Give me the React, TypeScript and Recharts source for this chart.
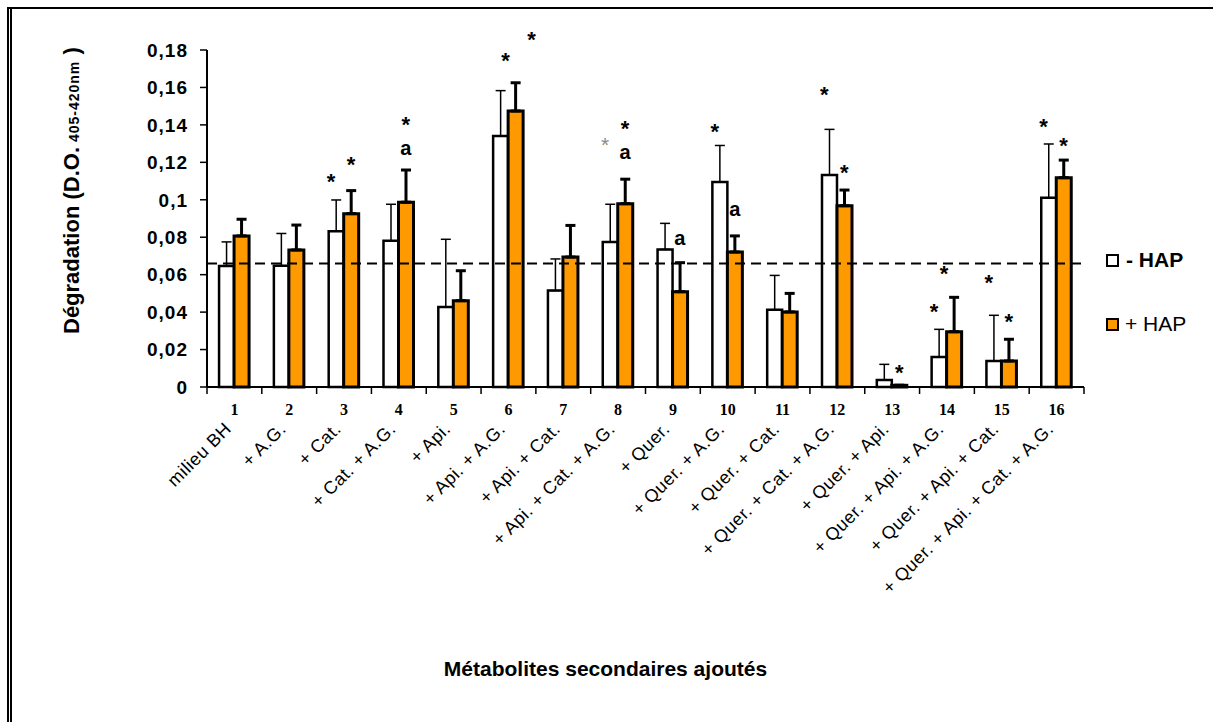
import React from 'react';
import { BarChart, Bar, XAxis, YAxis, ErrorBar, ReferenceLine, ReferenceDot, Legend } from 'recharts';

const categories = ['1', '2', '3', '4', '5', '6', '7', '8', '9', '10', '11', '12', '13', '14', '15', '16'];
const treatmentLabels = [
  'milieu BH',
  '+ A.G.',
  '+ Cat.',
  '+ Cat. + A.G.',
  '+ Api.',
  '+ Api. + A.G.',
  '+ Api. + Cat.',
  '+ Api. + Cat. + A.G.',
  '+ Quer.',
  '+ Quer. + A.G.',
  '+ Quer. + Cat.',
  '+ Quer. + Cat. + A.G.',
  '+ Quer. + Api.',
  '+ Quer. + Api. + A.G.',
  '+ Quer. + Api. + Cat.',
  '+ Quer. + Api. + Cat. + A.G.',
];

// - HAP (white bars)
const minusHap = [0.0646, 0.0648, 0.0832, 0.0781, 0.0427, 0.134, 0.0515, 0.0775, 0.0735, 0.1095, 0.0413, 0.1132, 0.0037, 0.016, 0.0139, 0.1011];
const minusHapErr = [0.0129, 0.0172, 0.0167, 0.0195, 0.0362, 0.0243, 0.0169, 0.0201, 0.0139, 0.0195, 0.0183, 0.0244, 0.0084, 0.0148, 0.0244, 0.0287];
// + HAP (orange bars)
const plusHap = [0.0807, 0.0732, 0.0926, 0.0987, 0.0461, 0.1474, 0.0694, 0.0979, 0.0509, 0.0721, 0.0401, 0.0968, 0.0009, 0.0295, 0.0139, 0.1118];
const plusHapErr = [0.0089, 0.0133, 0.0123, 0.0172, 0.016, 0.0151, 0.0169, 0.0131, 0.0155, 0.0086, 0.0099, 0.0084, 0, 0.0184, 0.0116, 0.0094];

const yTicks = [0, 0.02, 0.04, 0.06, 0.08, 0.1, 0.12, 0.14, 0.16, 0.18];
const controlLevel = 0.066;

// significance marks: category, which bar they sit by, text, height
const markCats = ['3', '3', '4', '4', '6', '6', '8', '8', '8', '9', '10', '10', '12', '12', '13', '14', '14', '15', '15', '16', '16'];
const markSeries = ['minus', 'plus', 'plus', 'plus', 'mid', 'far', 'minus', 'plus', 'plus', 'plus', 'minus', 'plus', 'minus', 'plus', 'plus', 'minus', 'mid', 'minus', 'plus', 'minus', 'plus'];
const markTexts = ['*', '*', 'a', '*', '*', '*', '°', 'a', '*', 'a', '*', 'a', '*', '*', '*', '*', '*', '*', '*', '*', '*'];
const markHeights = [0.112, 0.1212, 0.127, 0.1426, 0.1768, 0.188, 0.1314, 0.1251, 0.1406, 0.079, 0.139, 0.0944, 0.1585, 0.1171, 0.0103, 0.0429, 0.0629, 0.0581, 0.0372, 0.1414, 0.1314];

const data = categories.map((cat, i) => ({
  cat,
  minus: minusHap[i],
  plus: plusHap[i],
  minusErr: [0, minusHapErr[i]],
  plusErr: [0, plusHapErr[i]],
}));

const W = 1213;
const H = 722;
const PLOT_LEFT = 207;
const PLOT_RIGHT = 1084;
const BAND = (PLOT_RIGHT - PLOT_LEFT) / categories.length;
const SANS = '"Liberation Sans", Arial, sans-serif';
const MARK_DX: Record<string, number> = { minus: -13, mid: -3, plus: 7, far: 23 };

const fmt = (v: number) => String(Number(v.toFixed(2))).replace('.', ',');

const XTick = (props: any) => {
  const { x, y, payload, index } = props;
  const lx = x - 2;
  const ly = y + 43;
  return (
    <g>
      <line x1={x - BAND / 2} x2={x - BAND / 2} y1={y} y2={y + 7} stroke="#000" strokeWidth={1.5} />
      {index === categories.length - 1 ? (
        <line x1={x + BAND / 2} x2={x + BAND / 2} y1={y} y2={y + 7} stroke="#000" strokeWidth={1.5} />
      ) : null}
      <text x={x} y={y + 28} textAnchor="middle" fontFamily='"Liberation Serif", serif' fontWeight="bold" fontSize={16} fill="#000">
        {payload.value}
      </text>
      <text
        x={lx}
        y={ly}
        textAnchor="end"
        transform={`rotate(-45 ${lx} ${ly})`}
        fontFamily={SANS}
        fontSize={18}
        letterSpacing={0.5}
        fill="#000"
      >
        {treatmentLabels[index]}
      </text>
    </g>
  );
};

const YTitle = () => (
  <text x={79} y={334} transform="rotate(-90 79 334)" fontFamily={SANS} fontWeight="bold" fontSize={22} fill="#000">
    Dégradation (D.O.
    <tspan fontSize={14} letterSpacing={1}> 405-420nm</tspan>
    <tspan> )</tspan>
  </text>
);

const XTitle = (props: any) => {
  const vb = props.viewBox;
  return (
    <text x={vb.x + vb.width / 2 - 40} y={676} textAnchor="middle" fontFamily={SANS} fontWeight="bold" fontSize={21} fill="#000">
      Métabolites secondaires  ajoutés
    </text>
  );
};

const LegendBox = () => (
  <div style={{ fontFamily: SANS, color: '#000' }}>
    <div style={{ display: 'flex', alignItems: 'center', height: 24 }}>
      <span style={{ width: 9, height: 9, border: '2px solid #000', background: '#fff', display: 'inline-block' }} />
      <span style={{ marginLeft: 7, fontSize: 21, fontWeight: 'bold' }}>- HAP</span>
    </div>
    <div style={{ display: 'flex', alignItems: 'center', height: 24, marginTop: 40 }}>
      <span style={{ width: 9, height: 9, border: '2px solid #000', background: '#FF9900', display: 'inline-block' }} />
      <span style={{ marginLeft: 6, fontSize: 21 }}>+ HAP</span>
    </div>
  </div>
);

const MarkShape = (text: string, side: string) => (p: any) => {
  const dx = MARK_DX[side];
  if (text === '°') {
    return (
      <text x={p.cx + dx} y={p.cy + 11} textAnchor="middle" fontFamily={SANS} fontSize={21} fill="#8a8a8a">
        *
      </text>
    );
  }
  return (
    <text
      x={p.cx + dx}
      y={p.cy + (text === '*' ? 12 : 6)}
      textAnchor="middle"
      fontFamily={SANS}
      fontWeight="bold"
      fontSize={text === '*' ? 22 : 20}
      fill="#000"
    >
      {text}
    </text>
  );
};

export default function App() {
  return (
    <div style={{ position: 'absolute', left: 0, top: 0, width: W, height: H, background: '#fff' }}>
      <div style={{ position: 'absolute', left: 7, top: 7, width: W - 7, height: 2, background: '#000' }} />
      <div style={{ position: 'absolute', left: 7, top: 7, width: 2, height: H - 7, background: '#000' }} />
      <div style={{ position: 'absolute', left: 10, top: 7, width: 1.5, height: H - 7, background: '#000' }} />
      <BarChart
        width={W}
        height={H}
        data={data}
        margin={{ top: 50, right: W - PLOT_RIGHT, bottom: 0, left: PLOT_LEFT - 60 }}
        barCategoryGap="22%"
        barGap={0}
      >
        <YAxis
          width={60}
          domain={[0, 0.18]}
          ticks={yTicks}
          tickFormatter={fmt}
          axisLine={{ stroke: '#000', strokeWidth: 2 }}
          tickLine={{ stroke: '#000', strokeWidth: 1.5 }}
          tickSize={7}
          tickMargin={12}
          tick={{ fill: '#000', fontFamily: SANS, fontWeight: 'bold', fontSize: 19, letterSpacing: 1 }}
          label={<YTitle />}
        />
        <XAxis
          dataKey="cat"
          height={H - 387}
          axisLine={{ stroke: '#000', strokeWidth: 2 }}
          tickLine={false}
          tickSize={0}
          tickMargin={0}
          interval={0}
          tick={<XTick />}
          label={<XTitle />}
        />
        <Legend
          layout="horizontal"
          verticalAlign="middle"
          align="center"
          content={<LegendBox />}
          wrapperStyle={{ left: 1106, top: 248, width: 110 }}
        />
        <Bar dataKey="minus" fill="#fff" stroke="#000" strokeWidth={2.5} isAnimationActive={false}>
          <ErrorBar dataKey="minusErr" direction="y" width={5} stroke="#000" strokeWidth={1.5} />
        </Bar>
        <Bar dataKey="plus" fill="#FF9900" stroke="#000" strokeWidth={3} isAnimationActive={false}>
          <ErrorBar dataKey="plusErr" direction="y" width={5} stroke="#000" strokeWidth={3} />
        </Bar>
        <ReferenceLine y={controlLevel} stroke="#000" strokeWidth={2} strokeDasharray="10 6" />
        {markCats.map((cat, i) => (
          <ReferenceDot
            key={i}
            x={cat}
            y={markHeights[i]}
            r={0}
            ifOverflow="visible"
            shape={MarkShape(markTexts[i], markSeries[i])}
          />
        ))}
      </BarChart>
    </div>
  );
}
